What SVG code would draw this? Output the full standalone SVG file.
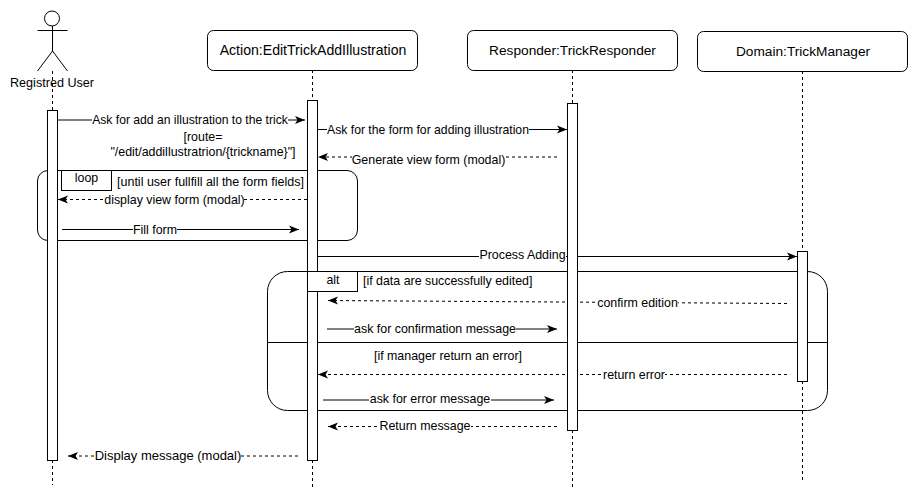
<svg xmlns="http://www.w3.org/2000/svg" width="918" height="502" viewBox="0 0 918 502">
<style>
text{font-family:"Liberation Sans",Arial,sans-serif;font-size:12.4px;fill:#000;text-anchor:middle}
.h{font-size:13.7px}
.l{text-anchor:start}
.s{fill:none;stroke:#000;stroke-width:1}
.b{fill:#fff;stroke:#000;stroke-width:1}
.d{fill:none;stroke:#000;stroke-width:1;stroke-dasharray:3 3}
.a{fill:none;stroke:#000;stroke-width:1;marker-end:url(#arr)}
.ad{fill:none;stroke:#000;stroke-width:1;stroke-dasharray:3 3;marker-end:url(#arr)}
.w{fill:#fff;stroke:none}
</style>
<defs>
<marker id="arr" markerUnits="userSpaceOnUse" markerWidth="12" markerHeight="10" refX="10" refY="5" orient="auto">
<path d="M0 1L10 5L0 9L2.500 5Z" fill="#000"/>
</marker>
</defs>
<rect width="918" height="502" fill="#fff"/>
<g id="frame-loop"><rect class="s" x="37.500" y="170.500" width="320" height="70" rx="10.500"/></g>
<g id="frame-alt"><rect class="s" x="267.500" y="271.500" width="560" height="139" rx="20"/><path class="s" d="M267.500 342.500H827.500"/></g>
<g id="lifelines">
<path class="d" d="M52.500 71V110M52.500 460V485"/>
<path class="d" d="M312.500 70V100M312.500 460V488"/>
<path class="d" d="M572.500 70V103M572.500 430V490"/>
<path class="d" d="M802.500 71V251M802.500 381V482"/>
</g>
<g id="connectors">
<path class="a" d="M58 120H305"/>
<path class="a" d="M318 129.500H567"/>
<path class="ad" d="M557 157H318"/>
<path class="ad" d="M307 199.500H58"/>
<path class="a" d="M62 229.500H299"/>
<path class="a" d="M318 256.500H797"/>
<path class="ad" d="M787 303.500L328 300.500"/>
<path class="a" d="M327 329H557"/>
<path class="ad" d="M787 374.500H318"/>
<path class="a" d="M323 400H554"/>
<path class="ad" d="M557 426.500H328"/>
<path class="ad" d="M298 456H68"/>
</g>
<g id="user">
<circle class="b" cx="52" cy="18.500" r="7.500"/>
<path class="s" d="M52.500 26V51M37.500 30.500H67.500M37.500 71L52.500 51L67.500 71"/>
<text x="52" y="87" font-size="12.600" style="font-size:12.600px">Registred User</text>
<rect class="b" x="47.500" y="110.500" width="10" height="350"/>
</g>
<g id="action">
<rect class="b" x="207.500" y="30.500" width="210" height="40" rx="6"/>
<text class="h" x="313" y="55" style="font-size:14.100px">Action:EditTrickAddIllustration</text>
<rect class="b" x="307.500" y="100.500" width="10" height="360"/>
</g>
<g id="responder">
<rect class="b" x="467.500" y="30.500" width="210" height="40" rx="6"/>
<text class="h" x="572.500" y="55">Responder:TrickResponder</text>
<rect class="b" x="567.500" y="103.500" width="10" height="327"/>
</g>
<g id="domain">
<rect class="b" x="697.500" y="31.500" width="210" height="40" rx="6"/>
<text class="h" x="803" y="56">Domain:TrickManager</text>
<rect class="b" x="797.500" y="251.500" width="10" height="130"/>
</g>
<g id="labels">
<rect class="w" x="92" y="113" width="196" height="14"/>
<text x="190" y="124" style="font-size:12.150px">Ask for add an illustration to the trick</text>
<text x="203" y="141">[route=</text>
<text x="203" y="156">"/edit/addillustratrion/{trickname}"]</text>
<rect class="w" x="327" y="123" width="202" height="14"/>
<text x="428" y="134" style="font-size:12.200px">Ask for the form for adding illustration</text>
<rect class="w" x="352" y="151" width="153" height="14"/>
<text x="428.500" y="164">Generate view form (modal)</text>
<rect class="b" x="61.500" y="170.500" width="50" height="20"/>
<text x="86.500" y="182">loop</text>
<text class="l" x="117" y="186" style="font-size:12.500px">[until user fullfill all the form fields]</text>
<rect class="w" x="105" y="193" width="139" height="14"/>
<text x="174.500" y="204">display view form (modal)</text>
<rect class="w" x="133" y="223" width="44" height="14"/>
<text x="155" y="234">Fill form</text>
<rect class="w" x="479" y="249" width="87" height="14"/>
<text x="522.500" y="259">Process Adding</text>
<rect class="b" x="307.500" y="271.500" width="50" height="20"/>
<text x="333" y="284">alt</text>
<text class="l" x="363" y="285">[if data are successfully edited]</text>
<rect class="w" x="597" y="296" width="81" height="14"/>
<text x="637.500" y="307">confirm edition</text>
<rect class="w" x="354" y="322" width="162" height="14"/>
<text x="435" y="333">ask for confirmation message</text>
<text x="448" y="360">[if manager return an error]</text>
<rect class="w" x="603" y="368" width="62" height="14"/>
<text x="634" y="379">return error</text>
<rect class="w" x="369" y="393" width="122" height="14"/>
<text x="430" y="403">ask for error message</text>
<rect class="w" x="379" y="420" width="92" height="14"/>
<text x="425" y="430">Return message</text>
<rect class="w" x="96" y="449" width="144" height="14"/>
<text x="168" y="460" style="font-size:13px">Display message (modal)</text>
</g>
</svg>
